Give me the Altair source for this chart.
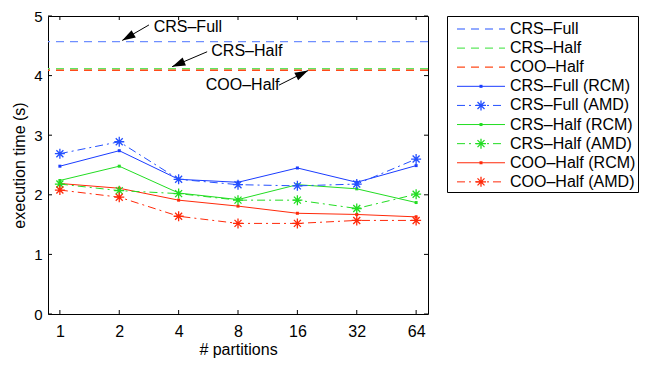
import math
import altair as alt
import pandas as pd

# ---------------- data ----------------
partitions = ["1", "2", "4", "8", "16", "32", "64"]
pos = list(range(len(partitions)))

baseline_names = ["CRS–Full", "CRS–Half", "COO–Half"]
baseline_values = [4.57, 4.115, 4.09]
baseline_colors = ["#6f8fff", "#5fe85f", "#ff4a1a"]

series_names = ["CRS–Full (RCM)", "CRS–Full (AMD)", "CRS–Half (RCM)",
                "CRS–Half (AMD)", "COO–Half (RCM)", "COO–Half (AMD)"]
crs_full_rcm = [2.48, 2.74, 2.26, 2.21, 2.45, 2.21, 2.49]
crs_full_amd = [2.69, 2.89, 2.26, 2.17, 2.15, 2.18, 2.60]
crs_half_rcm = [2.24, 2.48, 2.03, 1.92, 2.17, 2.10, 1.87]
crs_half_amd = [2.18, 2.07, 2.02, 1.91, 1.91, 1.77, 2.01]
coo_half_rcm = [2.19, 2.11, 1.91, 1.81, 1.69, 1.67, 1.63]
coo_half_amd = [2.08, 1.96, 1.64, 1.52, 1.52, 1.57, 1.57]
series_values = [crs_full_rcm, crs_full_amd, crs_half_rcm,
                 crs_half_amd, coo_half_rcm, coo_half_amd]
series_colors = ["#1a3cff", "#2450ff", "#22dd22", "#22dd22", "#ff2a0a", "#ff2a0a"]
series_style = ["solid", "dashdot", "solid", "dashdot", "solid", "dashdot"]

# annotations (data coordinates): label, text anchor, arrow start, arrow tip
ann_labels = ["CRS–Full", "CRS–Half", "COO–Half"]
ann_text_x = [1.58, 2.55, 3.70]
ann_text_y = [4.82, 4.41, 3.84]
ann_align = ["left", "left", "right"]
ann_start_x = [1.50, 2.48, 3.69]
ann_start_y = [4.85, 4.40, 3.84]
ann_tip_x = [1.05, 1.89, 4.18]
ann_tip_y = [4.59, 4.15, 4.085]

yticks = [0, 1, 2, 3, 4, 5]

# ---------------- layout ----------------
W, H = 380, 298
XDOM = [-0.2, 6.2]
YDOM = [0, 5]
FONT = "Liberation Sans"
DASH = [8, 6]
DASHDOT = [8, 4, 2, 4]
ASTERISK = "M-1,0L1,0M0,-1L0,1M-0.7,-0.7L0.7,0.7M-0.7,0.7L0.7,-0.7"
ARROW = "M0,0L-1,-0.32L-1,0.32Z"

label_expr = "[" + ",".join("'%s'" % p for p in partitions) + "][datum.value]"

xscale = alt.Scale(domain=XDOM, nice=False, zero=False)
yscale = alt.Scale(domain=YDOM, nice=False)
xaxis = alt.Axis(values=pos, labelExpr=label_expr, title="# partitions", grid=False,
                 ticks=False, domain=False, labelFontSize=16, titleFontSize=16,
                 labelPadding=9, titlePadding=2, titleFontWeight="normal",
                 labelColor="black", titleColor="black", labelFont=FONT, titleFont=FONT)
yaxis = alt.Axis(values=yticks, format="d", title="execution time (s)", grid=False,
                 ticks=False, domain=False, labelFontSize=15, titleFontSize=16,
                 labelPadding=6, titlePadding=6, titleFontWeight="normal",
                 labelColor="black", titleColor="black", labelFont=FONT, titleFont=FONT)

rows = []
for name, vals, col, sty in zip(series_names, series_values, series_colors, series_style):
    for p, v in zip(pos, vals):
        rows.append({"series": name, "pos": p, "value": v, "color": col, "style": sty})
df = pd.DataFrame(rows)
solid = df[df["style"] == "solid"]
dd = df[df["style"] == "dashdot"]

base_df = pd.DataFrame({"name": baseline_names, "value": baseline_values, "color": baseline_colors})

X = alt.X("pos:Q", scale=xscale, axis=xaxis)
Y = alt.Y("value:Q", scale=yscale, axis=yaxis)

baselines = alt.Chart(base_df).mark_rule(strokeDash=DASH, strokeWidth=1.3).encode(
    y=alt.Y("value:Q", scale=yscale, axis=yaxis),
    color=alt.Color("color:N", scale=None),
)

solid_lines = alt.Chart(solid).mark_line(strokeWidth=1).encode(
    x=X, y=Y, color=alt.Color("color:N", scale=None), detail="series:N")
solid_pts = alt.Chart(solid).mark_point(shape="square", filled=True, size=9, opacity=1).encode(
    x=X, y=Y, color=alt.Color("color:N", scale=None))
dd_lines = alt.Chart(dd).mark_line(strokeWidth=1, strokeDash=DASHDOT).encode(
    x=X, y=Y, color=alt.Color("color:N", scale=None), detail="series:N")
dd_pts = alt.Chart(dd).mark_point(shape=ASTERISK, filled=False, size=100, strokeWidth=1.3,
                                  opacity=1).encode(
    x=X, y=Y, color=alt.Color("color:N", scale=None))

# annotations
sx = W / (XDOM[1] - XDOM[0])
sy = H / (YDOM[1] - YDOM[0])
angles = [math.degrees(math.atan2(-(ty - sy0) * sy, (tx - sx0) * sx)) % 360
          for sx0, sy0, tx, ty in zip(ann_start_x, ann_start_y, ann_tip_x, ann_tip_y)]
ann_df = pd.DataFrame({"label": ann_labels, "tx": ann_text_x, "ty": ann_text_y,
                       "align": ann_align, "x": ann_start_x, "y": ann_start_y,
                       "x2": ann_tip_x, "y2": ann_tip_y, "angle": angles})
ann_left = alt.Chart(ann_df[ann_df["align"] == "left"]).mark_text(
    align="left", baseline="middle", fontSize=16, font=FONT, color="black").encode(
    x=alt.X("tx:Q", scale=xscale), y=alt.Y("ty:Q", scale=yscale), text="label:N")
ann_right = alt.Chart(ann_df[ann_df["align"] == "right"]).mark_text(
    align="right", baseline="middle", fontSize=16, font=FONT, color="black").encode(
    x=alt.X("tx:Q", scale=xscale), y=alt.Y("ty:Q", scale=yscale), text="label:N")
ann_lines = alt.Chart(ann_df).mark_rule(color="black", strokeWidth=1).encode(
    x=alt.X("x:Q", scale=xscale), y=alt.Y("y:Q", scale=yscale), x2="x2:Q", y2="y2:Q")
ann_heads = alt.Chart(ann_df).mark_point(shape=ARROW, filled=True, size=700, color="black",
                                         opacity=1).encode(
    x=alt.X("x2:Q", scale=xscale), y=alt.Y("y2:Q", scale=yscale),
    angle=alt.Angle("angle:Q", scale=None))

# inward ticks on all four sides
xt_df = pd.DataFrame({"pos": pos})
yt_df = pd.DataFrame({"value": yticks})
xt_bottom = alt.Chart(xt_df).mark_rule(color="black").encode(
    x=alt.X("pos:Q", scale=xscale), y=alt.value(H), y2=alt.value(H - 4))
xt_top = alt.Chart(xt_df).mark_rule(color="black").encode(
    x=alt.X("pos:Q", scale=xscale), y=alt.value(0), y2=alt.value(4))
yt_left = alt.Chart(yt_df).mark_rule(color="black").encode(
    y=alt.Y("value:Q", scale=yscale), x=alt.value(0), x2=alt.value(4))
yt_right = alt.Chart(yt_df).mark_rule(color="black").encode(
    y=alt.Y("value:Q", scale=yscale), x=alt.value(W), x2=alt.value(W - 4))

main = alt.layer(
    baselines, solid_lines, dd_lines, solid_pts, dd_pts,
    ann_lines, ann_heads, ann_left, ann_right,
    xt_bottom, xt_top, yt_left, yt_right,
).properties(width=W, height=H)

# ---------------- legend panel ----------------
leg_names = baseline_names + series_names
leg_colors = baseline_colors + series_colors
leg_styles = ["dash"] * 3 + series_style
leg_df = pd.DataFrame({"name": leg_names, "i": list(range(len(leg_names))),
                       "color": leg_colors, "style": leg_styles})
LW, LH = 191, 176
lscale = alt.Scale(domain=[-0.68, 8.53], nice=False, zero=False, reverse=True)
LY = alt.Y("i:Q", scale=lscale, axis=None)

leg_dash = alt.Chart(leg_df[leg_df["style"] == "dash"]).mark_rule(
    strokeDash=DASH, strokeWidth=1.3).encode(
    y=LY, x=alt.value(10), x2=alt.value(58), color=alt.Color("color:N", scale=None))
leg_solid = alt.Chart(leg_df[leg_df["style"] == "solid"]).mark_rule(strokeWidth=1).encode(
    y=LY, x=alt.value(10), x2=alt.value(58), color=alt.Color("color:N", scale=None))
leg_solid_pt = alt.Chart(leg_df[leg_df["style"] == "solid"]).mark_point(
    shape="square", filled=True, size=9, opacity=1).encode(
    y=LY, x=alt.value(34), color=alt.Color("color:N", scale=None))
leg_dd = alt.Chart(leg_df[leg_df["style"] == "dashdot"]).mark_rule(
    strokeWidth=1, strokeDash=DASHDOT).encode(
    y=LY, x=alt.value(10), x2=alt.value(58), color=alt.Color("color:N", scale=None))
leg_dd_pt = alt.Chart(leg_df[leg_df["style"] == "dashdot"]).mark_point(
    shape=ASTERISK, filled=False, size=100, strokeWidth=1.3, opacity=1).encode(
    y=LY, x=alt.value(34), color=alt.Color("color:N", scale=None))
leg_text = alt.Chart(leg_df).mark_text(align="left", baseline="middle", fontSize=16,
                                       font=FONT, color="black").encode(
    y=LY, x=alt.value(63), text="name:N")

legend = alt.layer(leg_dash, leg_solid, leg_dd, leg_solid_pt, leg_dd_pt, leg_text).properties(
    width=LW, height=LH)

chart = alt.hconcat(main, legend, spacing=16).properties(
    padding={"left": 3, "top": 0, "right": 0, "bottom": 0},
    config=alt.Config(font=FONT, view=alt.ViewConfig(stroke="black", strokeWidth=1)),
)

chart.save("out.html", embed_options={"renderer": "svg", "actions": False})
